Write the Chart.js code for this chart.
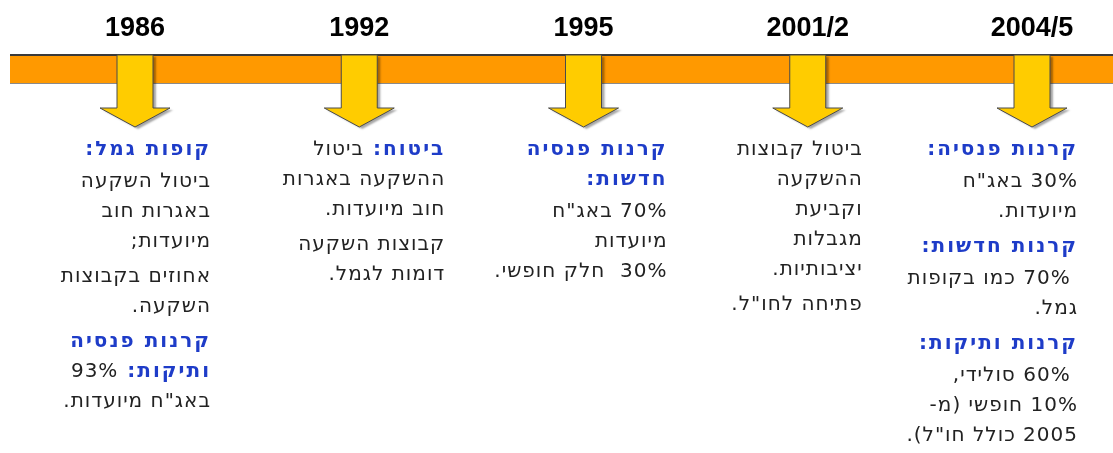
<!DOCTYPE html>
<html>
<head>
<meta charset="utf-8">
<script src="https://cdn.jsdelivr.net/npm/chart.js@4.4.1/dist/chart.umd.min.js"></script>
<style>
    html, body { margin: 0; padding: 0; background: #fff; }
    #wrap { width: 1113px; height: 453px; }
</style>
</head>
<body>
<div id="wrap"><canvas id="timeline"></canvas></div>
<script>
// timeline stops
const years = ["1986", "1992", "1995", "2001/2", "2004/5"];

// notes under each arrow: each line is [blue heading part, plain part]
const notes1986 = [
    ["קופות גמל:", ""],
    ["", "ביטול השקעה"],
    ["", "באגרות חוב"],
    ["", "מיועדות;"],
    ["", "אחוזים בקבוצות"],
    ["", "השקעה."],
    ["קרנות פנסיה", ""],
    ["ותיקות:", "93%"],
    ["", "באג\"ח מיועדות."],
];
const notes1992 = [
    ["ביטוח:", "ביטול"],
    ["", "ההשקעה באגרות"],
    ["", "חוב מיועדות."],
    ["", "קבוצות השקעה"],
    ["", "דומות לגמל."],
];
const notes1995 = [
    ["קרנות פנסיה", ""],
    ["חדשות:", ""],
    ["", "70% באג\"ח"],
    ["", "מיועדות"],
    ["", "30%  חלק חופשי."],
];
const notes2001 = [
    ["", "ביטול קבוצות"],
    ["", "ההשקעה"],
    ["", "וקביעת"],
    ["", "מגבלות"],
    ["", "יציבותיות."],
    ["", "פתיחה לחו\"ל."],
];
const notes2004 = [
    ["קרנות פנסיה:", ""],
    ["", "30% באג\"ח"],
    ["", "מיועדות."],
    ["קרנות חדשות:", ""],
    ["", " 70% כמו בקופות"],
    ["", "גמל."],
    ["קרנות ותיקות:", ""],
    ["", " 60% סולידי,"],
    ["", "10% חופשי (מ-"],
    ["", "2005 כולל חו\"ל)."],
];
const allNotes = [notes1986, notes1992, notes1995, notes2001, notes2004];

// layout only
const noteShift = [76, 86, 84, 55, 46];
const BAND_TOP = 55, BAND_BOTTOM = 83;
const HEAD_Y = 108, TIP_Y = 127;
const SHAFT = 18, HEAD = 35;

function arrowPath(ctx, cx) {
    ctx.beginPath();
    ctx.moveTo(cx - SHAFT, BAND_TOP);
    ctx.lineTo(cx + SHAFT, BAND_TOP);
    ctx.lineTo(cx + SHAFT, HEAD_Y);
    ctx.lineTo(cx + HEAD, HEAD_Y);
    ctx.lineTo(cx, TIP_Y);
    ctx.lineTo(cx - HEAD, HEAD_Y);
    ctx.lineTo(cx - SHAFT, HEAD_Y);
    ctx.closePath();
}

function drawNotes(ctx, right, lines) {
    let y = 150;
    lines.forEach((ln, i) => {
        if (i > 0) {
            const prev = lines[i - 1];
            const prevText = prev[1] || prev[0];
            let step = 30;
            // small paragraph gap after a sentence end
            if (/[.;]$/.test(prevText)) step += 5;
            if (prev[0] && !prev[1] && !ln[0]) step += 2;
            y += step;
        }
        let x = right;
        if (ln[0]) {
            ctx.font = "bold 20px 'DejaVu Sans'";
            ctx.letterSpacing = "2px";
            ctx.fillStyle = "#1e3cc8";
            ctx.fillText(ln[0], x, y);
            x -= ctx.measureText(ln[0] + " ").width;
        }
        if (ln[1]) {
            ctx.font = "20px 'DejaVu Sans'";
            ctx.letterSpacing = "1px";
            ctx.fillStyle = "#222";
            ctx.fillText(ln[1], x, y);
        }
    });
}

const timelinePlugin = {
    id: "timelineDraw",
    afterDraw(chart) {
        const ctx = chart.ctx;
        const xs = chart.scales.x;
        ctx.save();
        // orange band
        ctx.fillStyle = "#ff9900";
        ctx.fillRect(10, BAND_TOP, chart.width - 10, BAND_BOTTOM - BAND_TOP);
        ctx.fillStyle = "#3a3a3a";
        ctx.fillRect(10, BAND_TOP - 1, chart.width - 10, 2);
        ctx.fillStyle = "#8a8a8a";
        ctx.fillRect(10, BAND_BOTTOM, chart.width - 10, 1);

        years.forEach((yr, i) => {
            const cx = xs.getPixelForValue(i);
            ctx.save();
            ctx.shadowColor = "rgba(0,0,0,0.35)";
            ctx.shadowOffsetX = 3;
            ctx.shadowOffsetY = 2;
            ctx.shadowBlur = 2;
            arrowPath(ctx, cx);
            ctx.fillStyle = "#ffcc00";
            ctx.fill();
            ctx.restore();
            arrowPath(ctx, cx);
            ctx.strokeStyle = "#4a4a4a";
            ctx.lineWidth = 1;
            ctx.stroke();

            ctx.save();
            ctx.direction = "rtl";
            ctx.textAlign = "right";
            ctx.textBaseline = "middle";
            drawNotes(ctx, cx + noteShift[i], allNotes[i]);
            ctx.restore();
        });
        ctx.restore();
    },
};

new Chart(document.getElementById("timeline"), {
    type: "bar",
    data: {
        labels: years,
        datasets: [],
    },
    options: {
        responsive: true,
        maintainAspectRatio: false,
        animation: false,
        layout: { padding: { left: 135, right: 81, top: 8, bottom: 0 } },
        plugins: {
            legend: { display: false },
            tooltip: { enabled: false },
        },
        scales: {
            x: {
                type: "category",
                position: "top",
                offset: false,
                grid: { display: false },
                border: { display: false },
                ticks: {
                    color: "#000",
                    font: { family: "Liberation Sans", size: 27, weight: "bold" },
                    padding: 4,
                    maxRotation: 0,
                    autoSkip: false,
                },
            },
            y: { display: false, min: 0, max: 1 },
        },
    },
    plugins: [timelinePlugin],
});
</script>
</body>
</html>
